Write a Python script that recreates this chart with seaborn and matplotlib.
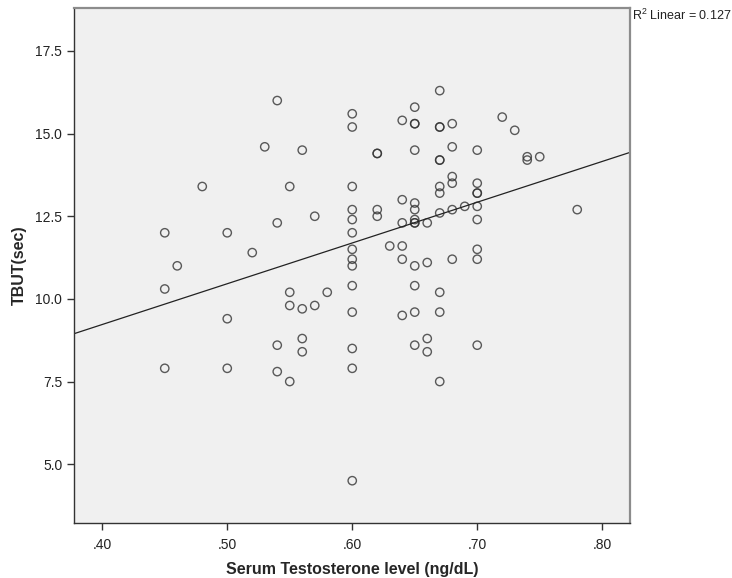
#Scatter of TBUT against serum testosterone with linear fit
import numpy as np
import pandas as pd
import matplotlib
matplotlib.use("Agg")
import matplotlib.pyplot as plt
import seaborn as sns

# values, grouped by testosterone level
testosterone = ([0.45] * 3 + [0.46] + [0.48] + [0.50] * 3 + [0.52] + [0.53]
                + [0.54] * 4 + [0.55] * 4 + [0.56] * 4 + [0.57] * 2 + [0.58]
                + [0.60] * 14 + [0.62] * 4 + [0.63] + [0.64] * 6 + [0.65] * 13
                + [0.66] * 4 + [0.67] * 11 + [0.68] * 6 + [0.69] + [0.70] * 9
                + [0.72] + [0.73] + [0.74] * 2 + [0.75] + [0.78])
tbut = [12.0, 10.3, 7.9,
        11.0,
        13.4,
        12.0, 9.4, 7.9,
        11.4,
        14.6,
        16.0, 12.3, 8.6, 7.8,
        13.4, 10.2, 9.8, 7.5,
        14.5, 9.7, 8.8, 8.4,
        12.5, 9.8,
        10.2,
        15.6, 15.2, 13.4, 12.7, 12.4, 12.0, 11.5, 11.2, 11.0, 10.4, 9.6, 8.5, 7.9, 4.5,
        14.4, 14.4, 12.7, 12.5,
        11.6,
        15.4, 13.0, 12.3, 11.6, 11.2, 9.5,
        15.8, 15.3, 15.3, 14.5, 12.9, 12.7, 12.4, 12.3, 12.3, 11.0, 10.4, 9.6, 8.6,
        12.3, 11.1, 8.8, 8.4,
        16.3, 15.2, 15.2, 14.2, 14.2, 13.4, 13.2, 12.6, 10.2, 9.6, 7.5,
        15.3, 14.6, 13.7, 13.5, 12.7, 11.2,
        12.8,
        14.5, 13.5, 13.2, 13.2, 12.8, 12.4, 11.5, 11.2, 8.6,
        15.5,
        15.1,
        14.3, 14.2,
        14.3,
        12.7]
r2_text = "R$^2$ Linear = 0.127"

df = pd.DataFrame({"testosterone": testosterone, "tbut": tbut})

sns.set_style("white")
plt.rcParams['font.family'] = ['Liberation Sans', 'DejaVu Sans']
plt.rcParams['mathtext.fontset'] = 'custom'
plt.rcParams['mathtext.rm'] = 'Liberation Sans'

fig = plt.figure(figsize=(7.32, 5.78), dpi=100)
ax = fig.add_axes([0.1011, 0.0957, 0.7602, 0.8899])
ax.set_facecolor("#f0f0f0")

# limits first so the fit line spans the whole axis
ax.set_xlim(0.3774, 0.8226)
ax.set_ylim(3.23, 18.79)

sns.regplot(data=df, x="testosterone", y="tbut", ci=None, truncate=False, ax=ax,
            scatter_kws={"s": 36, "facecolors": "none", "edgecolors": "#333333",
                         "linewidths": 1.0},
            line_kws={"color": "#222222", "linewidth": 0.9})

ax.set_xlim(0.3774, 0.8226)
ax.set_ylim(3.23, 18.79)

ax.set_xticks([0.40, 0.50, 0.60, 0.70, 0.80])
ax.set_xticklabels([".40", ".50", ".60", ".70", ".80"])
ax.set_yticks([5.0, 7.5, 10.0, 12.5, 15.0, 17.5])
ax.set_yticklabels(["5.0", "7.5", "10.0", "12.5", "15.0", "17.5"])
ax.tick_params(axis="both", direction="out", length=5, width=1, color="#333333",
               labelsize=10, labelcolor="#222222", left=True, bottom=True)
ax.tick_params(axis="x", pad=6)

for side in ["left", "bottom"]:
    ax.spines[side].set_color("#333333")
    ax.spines[side].set_linewidth(1.0)
for side in ["top", "right"]:
    ax.spines[side].set_color("#8c8c8c")
    ax.spines[side].set_linewidth(1.6)

ax.set_xlabel("Serum Testosterone level (ng/dL)", fontsize=11.5, fontweight="bold",
              labelpad=7)
ax.set_ylabel("TBUT(sec)", fontsize=11.5, fontweight="bold", labelpad=6)

fig.text(0.863, 0.973, r2_text, fontsize=9, ha="left", va="center", color="#222222")

plt.savefig("out.png", dpi=100)
